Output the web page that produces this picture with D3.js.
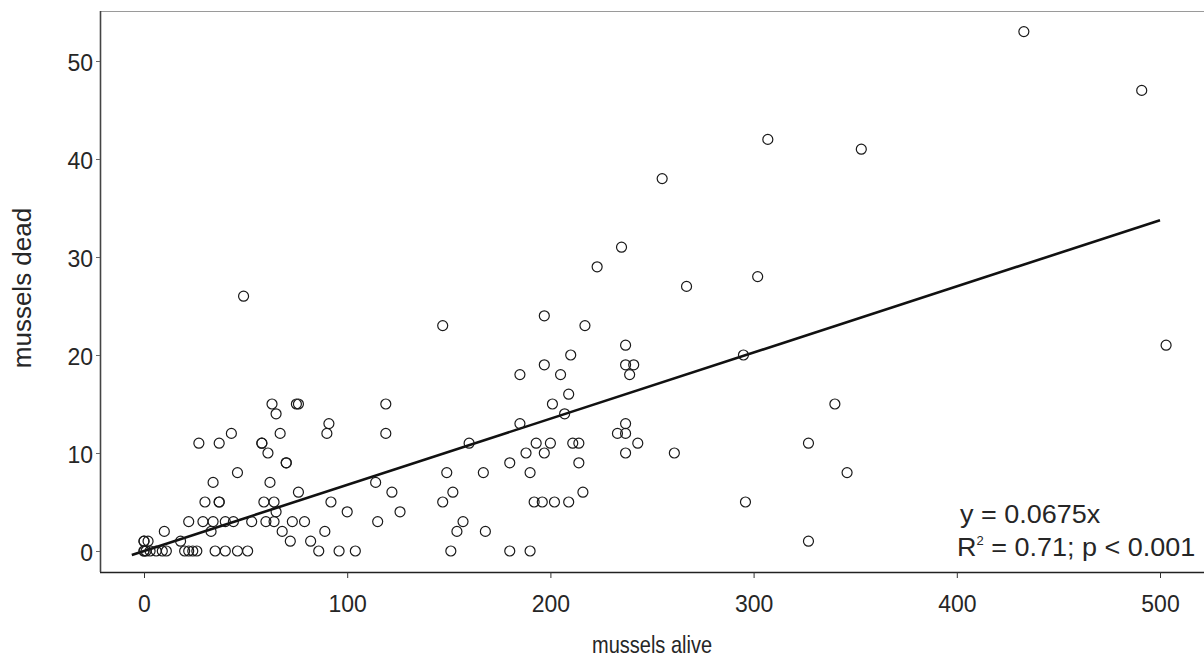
<!DOCTYPE html>
<html>
<head>
<meta charset="utf-8">
<script src="https://cdn.jsdelivr.net/npm/d3@7"></script>
<style>
  html, body { margin: 0; padding: 0; background: #fff; overflow: hidden; }
  svg { display: block; font-family: "Liberation Sans", Arial, sans-serif; }
</style>
</head>
<body>
<svg id="chart" width="1204" height="659"></svg>
<script>
// Mussel counts per sample: number alive vs number dead
const alive = [
  0, 0, 1, 3, 6, 9, 11, 0, 2, 0, 18, 10,
  20, 22, 24, 26, 35, 40, 46, 51,
  22, 29, 34, 40, 44, 53, 60, 64, 65, 73,
  33, 68, 72,
  30, 37, 37, 59, 64,
  34, 62, 76, 46,
  61, 70, 70,
  27, 37, 58, 58, 43, 67,
  63, 65, 75, 76,
  49,
  119, 91, 90, 119, 160, 149, 167, 114, 122, 152, 147, 92, 100, 126, 79, 89, 115, 157, 154, 168, 82, 86, 96, 104, 151,
  209, 201, 207, 185, 237, 233, 237, 193, 200, 211, 214, 243, 188, 197, 237, 261, 180, 214, 190, 216, 192, 196, 202, 209, 180, 190,
  235, 223, 267, 147, 197, 217, 237, 210, 197, 185, 205, 237, 241, 239,
  433, 491, 307, 353, 255, 302, 503, 295, 340, 327, 346, 296, 327
];
const dead = [
  0, 0, 0, 0, 0, 0, 0, 1, 1, 1, 1, 2,
  0, 0, 0, 0, 0, 0, 0, 0,
  3, 3, 3, 3, 3, 3, 3, 3, 4, 3,
  2, 2, 1,
  5, 5, 5, 5, 5,
  7, 7, 6, 8,
  10, 9, 9,
  11, 11, 11, 11, 12, 12,
  15, 14, 15, 15,
  26,
  15, 13, 12, 12, 11, 8, 8, 7, 6, 6, 5, 5, 4, 4, 3, 2, 3, 3, 2, 2, 1, 0, 0, 0, 0,
  16, 15, 14, 13, 13, 12, 12, 11, 11, 11, 11, 11, 10, 10, 10, 10, 9, 9, 8, 6, 5, 5, 5, 5, 0, 0,
  31, 29, 27, 23, 24, 23, 21, 20, 19, 18, 18, 19, 19, 18,
  53, 47, 42, 41, 38, 28, 21, 20, 15, 11, 8, 5, 1
];

const xTicks = [0, 100, 200, 300, 400, 500];
const yTicks = [0, 10, 20, 30, 40, 50];

// Fitted regression through the origin
const slope = 0.0675;
const fitRange = [-6, 500];
const fitLabel = "y = 0.0675x";
const statsLabel = ["R", "2", " = 0.71; p < 0.001"];

const xTitle = "mussels alive";
const yTitle = "mussels dead";

const svg = d3.select("#chart");

const plot = { left: 100, top: 11, right: 1230, bottom: 572 };

const x = d3.scaleLinear().domain([0, 500]).range([144, 1160]);
const y = d3.scaleLinear().domain([0, 50]).range([551, 61]);

const textColor = "#262626";

// panel outline: light top edge
svg.append("line")
  .attr("x1", plot.left).attr("x2", plot.right)
  .attr("y1", plot.top + 0.5).attr("y2", plot.top + 0.5)
  .attr("stroke", "#9a9a9a").attr("stroke-width", 1);

// axes
const xAxis = d3.axisBottom(x).tickValues(xTicks).tickSize(6).tickSizeOuter(0);
const yAxis = d3.axisLeft(y).tickValues(yTicks).tickSize(4).tickSizeOuter(0);

const gx = svg.append("g").attr("transform", `translate(0,${plot.bottom})`).call(xAxis);
gx.select(".domain").attr("d", `M${plot.left},0.5H${plot.right}`).attr("stroke", "#222").attr("stroke-width", 1.6);
gx.selectAll(".tick line").attr("stroke", "#333");
gx.selectAll(".tick text")
  .attr("y", 0).attr("dy", null)
  .attr("transform", "translate(0,40) scale(1,1.08)")
  .attr("font-size", 23).attr("fill", textColor)
  .attr("font-family", "Liberation Sans, Arial, sans-serif");

const gy = svg.append("g").attr("transform", `translate(${plot.left},0)`).call(yAxis);
gy.select(".domain").attr("d", `M0.5,${plot.top}V${plot.bottom}`).attr("stroke", "#444").attr("stroke-width", 1.6);
gy.selectAll(".tick line").attr("stroke", "#666");
gy.selectAll(".tick text")
  .attr("x", 0).attr("dy", null)
  .attr("transform", "translate(-7,9) scale(1,1.08)")
  .attr("font-size", 23).attr("fill", textColor)
  .attr("font-family", "Liberation Sans, Arial, sans-serif");

// axis titles
svg.append("text")
  .attr("transform", "translate(652,653) scale(1,1.22)")
  .attr("text-anchor", "middle")
  .attr("font-size", 20).attr("fill", textColor)
  .text(xTitle);

svg.append("text")
  .attr("transform", `translate(31,288) rotate(-90)`)
  .attr("text-anchor", "middle")
  .attr("font-size", 26).attr("fill", textColor)
  .text(yTitle);

// regression line
const fit = fitRange.map(v => [v, v * slope]);
svg.append("path")
  .datum(fit)
  .attr("d", d3.line().x(d => x(d[0])).y(d => y(d[1])))
  .attr("fill", "none")
  .attr("stroke", "#111")
  .attr("stroke-width", 2.6);

// points
const pts = alive.map((a, i) => ({ a, d: dead[i] }));
svg.append("g").selectAll("circle")
  .data(pts)
  .join("circle")
  .attr("cx", p => x(p.a))
  .attr("cy", p => y(p.d))
  .attr("r", 5)
  .attr("fill", "none")
  .attr("stroke", "#1a1a1a")
  .attr("stroke-width", 1.2);

// fit annotation
svg.append("text")
  .attr("transform", "translate(960,523) scale(1,0.93)")
  .attr("font-size", 27).attr("fill", textColor)
  .text(fitLabel);

const st = svg.append("text")
  .attr("transform", "translate(957,556) scale(1,0.93)")
  .attr("font-size", 27).attr("fill", textColor);
st.append("tspan").text(statsLabel[0]);
st.append("tspan").attr("font-size", 13).attr("dy", -12).text(statsLabel[1]);
st.append("tspan").attr("dy", 12).text(statsLabel[2]);
</script>
</body>
</html>
